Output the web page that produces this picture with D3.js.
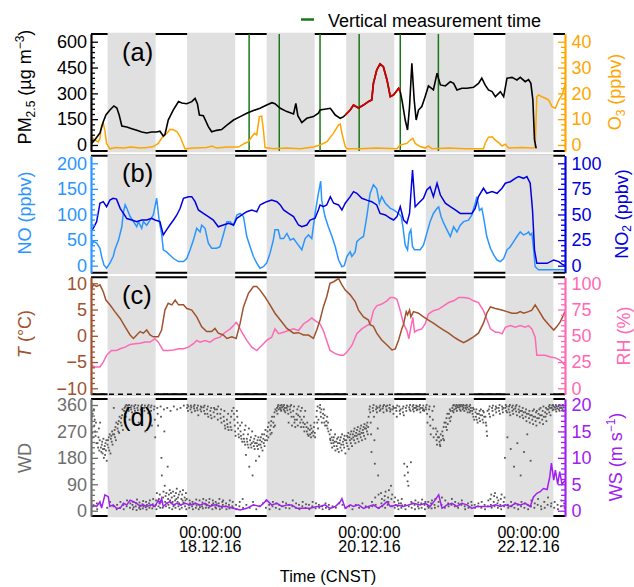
<!DOCTYPE html>
<html>
<head>
<meta charset="utf-8">
<script src="https://cdn.jsdelivr.net/npm/d3@7"></script>
<style>
  body { margin: 0; background: #fff; }
  svg { font-family: "Liberation Sans", Arial, sans-serif; }
</style>
</head>
<body>
<svg id="chart" width="634" height="587"></svg>
<script>
// time is in hours after 16.12.16 12:00 CNST
const startTime = Date.UTC(2016, 11, 16, 12);
const endHour = 143;
const nights = [[5, 19.5], [29, 43.5], [53, 67.5], [77, 91.5], [101, 115.5], [125, 139.5]];
const verticalTimes = [47.7, 56.8, 69.1, 80.9, 93.3, 104.8];
const xTickDates = [Date.UTC(2016, 11, 18), Date.UTC(2016, 11, 20), Date.UTC(2016, 11, 22)];

const pmTicks = [0, 150, 300, 450, 600];
const o3Ticks = [0, 10, 20, 30, 40];
const noTicks = [0, 50, 100, 150, 200];
const no2Ticks = [0, 25, 50, 75, 100];
const tTicks = [-10, -5, 0, 5, 10];
const rhTicks = [0, 25, 50, 75, 100];
const wdTicks = [0, 90, 180, 270, 360];
const wsTicks = [0, 5, 10, 15, 20];

const pm25 = [[0,5],[1.2,30],[2.7,70],[3.7,135],[4.5,175],[5.7,203],[6.9,227],[7.8,215],[8.5,174],[9.3,110],[10.8,105],[12.3,95],[13.8,85],[15.3,75],[16.8,70],[18.3,75],[19.8,75],[20.8,80],[21.8,52],[22.3,60],[23.3,145],[24.8,203],[26.4,252],[27.4,244],[28.9,240],[30.4,252],[31.4,271],[32.1,240],[32.7,174],[33.9,170],[35.4,107],[36.4,77],[37.9,85],[39.4,90],[41,116],[43,145],[45,165],[47,184],[49,200],[51,213],[53,232],[54.6,246],[55.5,240],[57.1,213],[59.1,194],[61.1,180],[61.8,242],[62.4,170],[63.6,130],[65.1,155],[67.1,165],[68.6,185],[69.1,203],[72.2,213],[73.7,174],[75.2,155],[76.2,165],[76.7,174],[78.2,203],[79.2,232],[80.7,215],[82.2,232],[83.7,252],[84.7,262],[85.2,358],[86.2,436],[87.2,471],[88.2,455],[89.3,378],[90.3,281],[91.3,291],[92.8,329],[93.3,310],[93.8,262],[94.8,145],[95.5,87],[96.1,223],[96.8,475],[97.5,262],[98.1,145],[98.8,203],[99.8,223],[100.8,281],[101.8,343],[103.3,320],[104.4,417],[105.4,349],[106.9,343],[108.4,368],[109.4,358],[110.4,320],[111.9,330],[113.4,330],[115.4,335],[116.9,358],[117.9,388],[118.9,349],[119.9,320],[121,310],[122,281],[123.5,310],[124.5,281],[125.5,388],[127,393],[128.5,378],[129.5,393],[131,368],[132,380],[132.7,358],[133.3,262],[133.8,29],[134.3,-20]];
const pmHighlight = [76.7, 93.3];

const o3 = [[0,3.2],[1.2,1.9],[2.2,1.2],[2.7,2.5],[3.2,7.8],[3.7,8.4],[4.2,5.5],[4.7,0.6],[5.7,-1.5],[7.5,-1],[9.8,-1.2],[12,-0.8],[14.8,-1.2],[17,-1],[18.8,-0.6],[20.3,0.6],[21.3,2.6],[22.9,4.5],[23.8,6.1],[24.8,5.9],[25.9,5.2],[26.9,3.2],[27.7,0.6],[28.4,-1.5],[31,-1.2],[34.9,-1],[36.5,-0.4],[37.9,-1.2],[41,-0.8],[43,-0.8],[44.5,-0.8],[46,0.4],[47.5,1.3],[48.5,3.2],[49.3,4.5],[50,3.9],[50.8,11],[51.5,11.2],[52,6],[52.5,-1],[55,-1.5],[59,-1.2],[63.1,-1.5],[67.1,-0.8],[69.1,0],[71.2,1.3],[73.1,4.5],[74.7,7.8],[75.2,8.1],[75.7,4.5],[76.7,-0.6],[77.2,-1.5],[81.2,-1.5],[86,-1.2],[92.3,-1.5],[93.3,0],[95.3,0.6],[96.3,1.9],[97.1,2.6],[97.8,0.6],[99.3,-0.6],[100.8,-1.2],[101.8,-0.4],[102.9,-1.5],[108,-1.2],[113,-1.5],[118.4,-1.5],[118.9,0.6],[119.9,3],[121,3.2],[122,1.9],[123,0.9],[124,-0.4],[125,0.3],[126,-1.2],[130,-1],[133.5,-1.2],[134,-0.6],[134.5,18.7],[135,19.4],[136,18.7],[137.1,18.1],[138.1,17.4],[139.1,14.8],[140.1,14.2],[141.1,17.4],[142.1,19.4],[143,23.3]];

const no = [[0,37],[0.7,47],[1.7,44],[2.7,34],[3.2,18],[3.9,1.4],[4.7,-5],[5.7,5],[6.7,18],[7.2,31],[8.3,50],[9.3,76],[9.8,105],[10.3,119],[10.8,112],[11.8,96],[12.8,86],[13.8,76],[14.3,86],[15.3,73],[15.8,86],[16.8,79],[17.8,89],[18.8,99],[19.8,132],[20.6,86],[21.3,63],[21.8,31],[22.8,27],[23.8,21],[24.9,14],[26.4,8],[27.9,8],[28.9,14],[29.9,31],[30.9,50],[31.9,73],[32.9,66],[33.4,79],[34.4,73],[35.4,44],[36.4,34],[37.9,34],[38.9,37],[39.9,60],[41,86],[42,86],[43,79],[44,99],[45,102],[46,96],[47,57],[48,37],[49,18],[50,5],[51,-5],[52,-2],[53,5],[54,24],[55,50],[55.5,70],[56.5,70],[57.1,53],[58.1,53],[59.1,63],[60.1,50],[61.1,53],[62.1,44],[63.6,31],[64.6,53],[65.6,60],[66.6,53],[67.6,102],[68.6,141],[69.3,165],[69.6,128],[70.6,96],[71.6,76],[72.7,57],[73.7,37],[74.7,11],[75.7,-2],[76.4,0],[77.2,18],[78.2,27],[78.7,18],[79.7,27],[80.2,47],[81.2,53],[82.2,57],[83.2,96],[84.2,141],[85.2,158],[86.2,150],[87,122],[87.7,135],[88.8,122],[90.3,112],[91.3,109],[92.8,102],[93.6,96],[94.1,76],[94.8,40],[95.5,31],[96,63],[96.5,70],[97,37],[97.6,31],[98.3,31],[99.3,31],[100.3,40],[101.3,63],[102.3,86],[103.3,102],[104.4,112],[104.9,115],[105.6,96],[106.4,83],[107.4,70],[108.4,57],[109.4,76],[110.4,66],[111.4,79],[112.4,86],[113.9,89],[114.9,99],[115.9,122],[116.4,135],[117.2,108],[117.9,112],[118.4,96],[119.4,57],[120.5,34],[121.5,21],[122.5,11],[123.5,8],[124.5,14],[125.5,31],[126.5,37],[127.5,47],[128.5,57],[129.5,66],[130.5,60],[131.5,63],[132,66],[132.5,60],[133,63],[133.5,34],[134,-2],[135,-8],[139.6,-8],[143,-8]];

const no2 = [[0,33],[0.9,38],[1.7,43],[2.7,61],[3.7,62.5],[4.7,57.6],[5.7,64],[6.7,65.8],[7.7,65],[8.8,56],[9.8,51],[10.8,46],[12.3,44.6],[13.8,43],[15.3,44.6],[16.8,44.6],[18.3,46.3],[19.3,44.6],[20.8,43],[21.8,30],[22.8,35],[23.8,39.7],[24.9,44.6],[25.9,49.5],[26.9,56],[27.9,65.8],[29.4,67.4],[30.4,67.4],[31.4,62.5],[32.4,54.4],[33.9,51],[35.4,47.9],[36.9,44.6],[38.4,38],[39.9,39.7],[41.5,41.4],[43,39.7],[44,46.3],[45.5,49.5],[47,52.7],[48.5,54.4],[50,52.7],[51,59.3],[52,61],[53,62.5],[54.5,64],[56.1,62.5],[57.1,59.3],[58.1,54.4],[59.6,51],[61.1,47.9],[62.6,39.7],[63.6,38],[65.1,39.7],[66.1,44.6],[67.6,46.3],[68.6,54.4],[69.1,59.3],[70.1,57.6],[71.1,59.3],[72.2,67.4],[73.2,61],[74.7,59.3],[75.7,54.4],[76.7,61],[78.2,67.4],[79.2,72.3],[80.2,70.7],[81.7,65.8],[83.2,64],[84.7,62.5],[86.2,59.3],[87.2,51],[88.8,49.5],[90.3,46.3],[91.3,44.6],[92.3,47.9],[93.3,57.6],[94.3,44.6],[95.3,41.4],[96.1,51],[97,93.5],[97.8,57.6],[98.8,61],[100.3,65.8],[101.3,74],[102.3,77],[103.3,67.4],[104.4,80.5],[105.4,69],[106.9,61],[108.4,57.6],[109.9,54.4],[111.4,51],[113.4,51],[114.9,51],[115.9,56],[116.9,67.4],[118.4,75.6],[119.4,70.7],[121,72.3],[122.5,70.7],[124,75.6],[125,80.5],[126.5,82],[128,85.3],[129,87],[130.5,85.3],[131.5,87],[132.5,80.5],[133.2,54.4],[133.8,15.3],[134.5,2.3],[135.5,2.3],[137.6,2.3],[139.6,5.6],[141.1,4],[142.1,1.5],[143,0]];

const temp = [[0,8.7],[0.7,9.7],[1.7,9.4],[2.7,9.7],[3.7,8.4],[4.5,6.8],[5.7,5.9],[7.2,4.6],[8.8,3.3],[10.3,1.7],[11.8,0.15],[12.8,-0.5],[13.8,0.15],[14.8,0.8],[15.8,0.5],[16.8,1.1],[17.8,0.15],[18.8,-0.2],[20.3,-0.2],[21.3,1.1],[22.3,4.9],[23.3,6.2],[24.4,5.9],[25.4,6.8],[26.4,5.9],[27.9,5.9],[28.9,5.2],[30.4,4.9],[31.9,3.6],[33.4,1.7],[34.9,0.8],[36.4,0.8],[37.4,1.4],[38.4,0.5],[39.9,0.15],[41,-0.5],[42.5,-0.2],[43.8,-0.5],[45,2.4],[46,5.5],[47.5,8.1],[49,9.4],[50,9.4],[51,8.7],[52.5,7.4],[54,5.9],[55.5,4.3],[57.1,3],[59.1,1.4],[61.1,0.5],[62.6,0.6],[64.1,0.15],[65.6,0.15],[67.1,-0.5],[68.1,1.1],[69.1,3],[70.1,5.5],[71.1,7.4],[72.1,10],[73.2,10.3],[74.7,10.9],[75.7,9.7],[76.7,8.7],[78.2,7.8],[79.7,6.5],[80.7,4.9],[82.2,3.6],[83.7,3],[84.2,2.1],[85.2,1.8],[86.2,0.5],[87.7,-0.8],[89.3,-1.75],[90.8,-2.7],[91.8,-2.5],[92.8,-0.8],[93.8,1.4],[94.3,2.2],[95.1,4.6],[95.5,4],[96.1,4.9],[96.5,3.6],[97.3,4.6],[98.8,4.3],[100.3,3.6],[101.8,3],[103.3,2.4],[104.9,1.7],[106.4,1.1],[107.9,0.5],[109.4,-0.2],[110.9,-0.8],[112.4,-1.3],[113.9,-0.8],[115.4,-0.2],[116.9,0.5],[118.4,2.4],[119.4,4.3],[120.5,5.5],[122,5.2],[123.9,4.9],[125.5,4.6],[127,4.3],[128.5,4.3],[129.5,4.6],[130.5,4.3],[132,4.6],[133,4.9],[134,5.9],[135,4.9],[136.5,3.3],[138.1,2.1],[139.6,1.1],[140.6,1.8],[141.6,2.7],[143,4.6]];

const rh = [[0,22],[1.2,20.4],[2.7,20.4],[3.7,25],[4.7,31.4],[6.2,36],[7.7,36],[8.8,37.7],[10.3,39.2],[11.8,41.8],[13.3,42.5],[14.8,43],[16.3,44],[17.8,44],[19.3,47.2],[20.3,44],[21.8,36],[23.3,36],[24.9,36.5],[26.4,37.7],[27.9,37.7],[29.4,39.2],[30.9,42.5],[31.9,45.6],[32.9,44],[34.4,45.6],[35.9,44],[37.4,47.2],[38.9,48.7],[40.5,53.4],[42,56.6],[43,59.7],[43.8,62.8],[44.5,59.7],[45.5,53.4],[47,45.6],[48.5,39.2],[50,36],[51.5,40.8],[53,45.6],[54.5,48.7],[55.5,56.6],[56.6,52],[58.1,53.4],[59.6,55],[61.1,56.6],[62.6,55],[64.1,61.3],[65.6,64.4],[66.6,67],[67.6,64.4],[69.1,61.3],[70.1,55],[71.1,45.6],[72.1,36],[73.7,33],[75.2,31.4],[76.2,31.4],[77.2,34.5],[78.7,40.8],[80.2,51.9],[81.7,56.6],[83.2,59.7],[84.2,61.3],[85.2,73.9],[86.2,78.6],[87.7,80.2],[89.3,83.3],[90.3,86.4],[91.3,86.4],[92.3,84.8],[93.3,73.9],[94.3,61.3],[95.3,55],[95.9,47.2],[96.5,58],[97.1,67.5],[97.6,53.4],[98.3,55],[99.8,56.6],[100.8,61.3],[101.8,70.7],[103.3,73.9],[104.9,75.4],[106.4,78.6],[107.9,81.7],[109.4,83.3],[110.9,86.4],[112.4,86.4],[113.9,85.8],[115.4,83.3],[116.9,81.7],[118.4,73.9],[119.4,66],[120.5,56.6],[122,53.4],[123,53.4],[124,51.9],[125,58.1],[126.5,59.7],[128,58.1],[129.5,59.7],[131,58.1],[132,59.7],[133,56.6],[134,48.7],[134.5,31.4],[135.5,31.4],[137,31.4],[138.6,29.8],[140.1,29],[141.6,26.7],[143,22]];

const ws = [[0,0.5],[0.7,1.1],[1.7,0.8],[2.7,1.7],[3.2,0.5],[4.2,3],[5.2,2.65],[5.7,0.8],[6.7,1.1],[7.7,0.45],[8.8,0.45],[9.8,1.4],[10.8,1.1],[11.8,2],[12.8,1.7],[13.8,1.4],[14.8,0.8],[15.8,1.1],[16.8,0.8],[18.3,1.1],[19.3,0.8],[20.3,2],[20.8,1.4],[21.3,2.3],[21.8,0.8],[22.8,1.4],[23.8,1.7],[24.9,1.1],[25.9,1.4],[26.9,1.1],[28.4,1.4],[29.9,1.1],[31.4,1.4],[32.9,1.1],[34.4,1.4],[35.9,0.8],[37.4,1.1],[38.9,0.8],[41,0.8],[43,0.45],[45,0.13],[47,0.45],[49,1.1],[51,0.8],[53,2],[54.5,1.1],[56.1,1.4],[57.6,0.8],[59.1,1.1],[60.6,1.1],[62.1,0.45],[64.1,0.45],[66.1,0.45],[68.1,0.8],[69.1,0.8],[70.6,1.1],[72.1,0.45],[73.7,0.8],[75.2,1.7],[75.7,2.3],[76.7,0.45],[78.2,1.1],[79.2,0.8],[80.7,1.1],[82.2,0.45],[83.7,0.8],[85.2,1.1],[86.7,0.45],[88.2,1.1],[89.3,1.7],[90.3,0.8],[92.3,1.1],[94.3,0.8],[95.8,1.1],[97.3,1.4],[99.3,1.1],[100.8,1.4],[102.3,0.8],[103.8,2],[104.9,3],[105.9,0.45],[107.4,1.1],[108.9,1.4],[110.4,0.8],[111.9,1.4],[113.4,1.1],[114.9,0.45],[116.4,0.8],[118.4,0.8],[120.5,0.8],[122,1.1],[123.5,0.8],[125,1.1],[126.5,0.8],[128,1.4],[129.5,1.1],[131,1.4],[132.5,0.8],[133.5,2.6],[134.5,3.3],[135.5,3.6],[136.5,4.2],[137.6,4],[138.4,6.4],[138.9,9],[139.6,5.8],[140.1,7.7],[140.8,5],[141.4,7.4],[142.1,5],[143,5.7]];

// wind direction readings, one row per hour (samples spread evenly through the hour)
const wdHourly = [
[300,280,320,265,330,250,15,345],[290,310,270,255,300,230,25,5],[230,215,250,280,205,240,300,20],[215,200,225,235,195,210,245,180],
[210,220,190,230,205,240,170,10],[225,240,215,250,205,260,30,195],[245,255,235,270,225,260,15,350],[260,275,250,285,240,300,5,20],
[280,295,270,305,265,320,10,30],[300,315,290,325,345,275,20,5],[340,350,330,355,320,360,15,35],[350,358,345,340,360,310,10,25],
[352,345,358,335,20,5,30,12],[355,348,340,360,15,25,2,38],[350,342,358,300,10,28,18,5],[345,355,338,360,22,8,33,15],
[350,340,358,270,12,30,4,20],[348,355,332,360,25,10,35,18],[352,340,358,290,8,22,40,15],[345,355,310,250,20,35,5,60],
[350,330,290,15,40,25,55,10],[355,320,180,120,30,10,45,65],[345,270,85,30,50,15,60,25],[350,150,40,20,55,10,70,35],
[340,60,25,45,5,30,65,15],[355,50,20,35,10,60,40,75],[345,30,45,15,55,25,5,65],[350,20,40,10,55,35,70,28],
[358,25,45,15,35,60,5,40],[350,360,340,355,20,10,35,25],[345,358,352,335,15,30,5,22],[355,348,360,340,25,10,38,18],
[350,342,358,325,5,20,35,12],[345,355,338,352,15,28,8,40],[352,340,358,330,22,10,35,18],[345,330,355,320,10,28,40,15],
[340,325,350,315,20,5,35,25],[335,350,320,345,12,30,8,22],[345,330,310,355,25,15,40,5],[330,315,345,300,10,30,20,35],
[320,305,340,290,280,15,25,5],[310,295,285,330,275,20,8,35],[300,285,320,275,340,15,30,10],[350,330,310,290,270,255,20,5],
[340,320,300,280,260,250,15,30],[290,270,255,245,300,235,40,10],[260,245,235,275,225,290,190,20],[245,235,225,260,215,280,150,10],
[240,225,250,215,230,270,120,30],[235,220,245,210,230,255,170,5],[230,220,240,210,250,225,185,15],[240,225,250,215,235,260,205,25],
[245,230,260,220,240,275,10,35],[255,240,270,285,250,300,20,5],[275,260,290,305,265,320,15,30],[300,285,320,335,290,345,10,25],
[340,350,330,355,360,345,20,5],[350,358,345,340,360,352,15,30],[355,345,360,340,350,335,10,25],[350,358,342,355,330,300,20,8],
[345,355,335,360,320,290,15,35],[340,320,355,300,310,285,10,25],[330,310,345,290,325,355,20,5],[320,300,340,285,310,350,15,30],
[300,285,320,270,295,340,10,22],[285,270,300,260,280,255,20,5],[275,260,290,250,280,265,15,30],[270,255,285,300,265,250,8,25],
[320,340,300,355,280,310,20,10],[350,360,335,320,345,300,15,5],[330,315,345,300,325,290,25,10],[305,290,320,280,300,270,20,5],
[260,245,240,275,230,250,215,15],[240,230,250,220,235,260,205,10],[235,220,245,210,230,250,200,25],[230,240,215,250,225,205,260,20],
[235,225,245,215,255,240,195,10],[240,230,255,220,250,265,210,15],[250,240,260,230,270,245,220,5],[260,250,270,240,280,255,230,20],
[265,255,275,245,285,260,235,10],[270,260,280,250,290,265,240,25],[275,265,285,255,295,280,245,15],[280,290,270,300,260,285,320,10],
[345,355,335,300,260,200,30,15],[350,340,360,320,240,160,45,20],[345,355,335,350,280,120,55,10],[352,340,358,345,60,25,40,15],
[348,355,335,360,35,50,10,65],[355,345,340,358,20,45,30,70],[350,360,338,345,85,40,15,55],[345,355,330,350,30,10,45,20],
[350,340,320,358,15,35,5,25],[355,340,330,345,25,10,40,18],[348,335,355,325,160,120,20,5],[350,340,358,150,100,130,85,15],
[352,345,360,340,165,30,10,25],[355,345,360,338,350,20,5,35],[350,358,342,355,345,15,28,8],[355,345,360,335,350,25,10,38],
[350,342,358,345,340,20,5,30],[352,345,360,330,300,15,30,10],[345,355,320,290,260,25,8,35],[340,310,280,250,355,20,10,40],
[280,260,240,225,270,250,15,30],[250,235,225,220,260,240,20,45],[270,255,245,285,240,300,10,35],[300,285,315,275,330,295,25,15],
[330,315,345,305,340,320,20,40],[350,340,358,335,360,345,15,30],[355,348,360,340,352,358,10,25],[352,360,345,355,340,360,20,35],
[355,345,360,350,358,340,15,5],[350,358,345,360,352,335,25,10],[345,355,335,360,340,350,30,18],[340,330,350,320,345,310,20,10],
[335,320,345,310,330,300,15,25],[330,315,340,305,325,345,10,30],[325,310,340,300,335,320,20,5],[320,300,290,270,255,340,15,35],
[345,330,355,320,40,20,55,10],[350,340,358,325,30,50,15,60],[345,355,335,350,45,25,10,35],[350,340,360,330,20,40,5,55],
[355,345,335,350,30,15,45,180],[350,360,340,355,335,250,20,10],[345,355,335,360,325,210,30,15],[352,340,358,330,345,150,10,25],
[348,355,338,360,325,230,20,5],[345,335,355,320,340,120,15,30],[340,325,350,315,335,200,10,25],[335,320,345,305,330,260,20,5],
[330,315,340,300,325,170,15,35],[325,310,340,295,320,345,10,25],[320,305,335,290,340,315,20,40],[330,315,345,300,325,350,15,5],
[325,310,340,295,355,320,30,10],[335,320,350,305,330,345,20,45],[345,355,335,360,350,325,15,25],[350,358,342,360,345,355,10,30],
[352,345,360,338,355,348,20,5],[355,345,360,340,350,358,15,35],[350,358,345,360,340,352,25,10]
];

const svg = d3.select("#chart");
const left = 91, right = 565, panelH = 117;
const t = h => new Date(startTime + h * 3600e3);
const x = d3.scaleUtc().domain([t(0), t(endHour)]).range([left, right]);

const colors = {
  pm: "#000", pmRed: "#d40000", o3: "#ffa500", no: "#2b95ff", no2: "#0000e0",
  t: "#a0522d", rh: "#ff69b4", wd: "#555", wdAxis: "#6e6e6e", ws: "#a020f0",
  band: "#e0e0e0", green: "#187818"
};

const panels = [
  { top: 34, label: "(a)", yl: [-35, 645], yr: [-35 / 15, 645 / 15],
    lc: colors.pm, rc: colors.o3, lt: pmTicks, lm: 30, rt: o3Ticks, rm: 2,
    ltitle: [{ s: "PM" }, { s: "2.5", sub: 1 }, { s: " (µg m" }, { s: "−3", sup: 1 }, { s: ")" }], lty: 87,
    rtitle: [{ s: "O" }, { s: "3", sub: 1 }, { s: " (ppbv)" }], rtx: 621, rty: 92 },
  { top: 155.7, label: "(b)", yl: [-13.7, 214.8], yr: [-6.85, 107.4],
    lc: colors.no, rc: colors.no2, lt: noTicks, lm: 10, rt: no2Ticks, rm: 5,
    ltitle: [{ s: "NO (ppbv)" }], lty: 213,
    rtitle: [{ s: "NO" }, { s: "2", sub: 1 }, { s: " (ppbv)" }], rtx: 627.5, rty: 214 },
  { top: 277.3, label: "(c)", yl: [-11.14, 11.14], yr: [-5.7, 105.7],
    lc: colors.t, rc: colors.rh, lt: tTicks, lm: 1, rt: rhTicks, rm: 5,
    ltitle: [{ s: "T", it: 1 }, { s: " (°C)" }], lty: 334,
    rtitle: [{ s: "RH (%)" }], rtx: 629.5, rty: 336 },
  { top: 399, label: "(d)", yl: [-18, 380.4], yr: [-1, 21.13],
    lc: colors.wdAxis, rc: colors.ws, lt: wdTicks, lm: 18, rt: wsTicks, rm: 1,
    ltitle: [{ s: "WD" }], lty: 458,
    rtitle: [{ s: "WS (m s" }, { s: "−1", sup: 1 }, { s: ")" }], rtx: 622, rty: 457 }
];

function title(g, parts, tx, ty, color) {
  const txt = g.append("text")
    .attr("transform", `translate(${tx},${ty}) rotate(-90)`)
    .attr("text-anchor", "middle").attr("font-size", 18).attr("fill", color);
  let cur = 0;
  parts.forEach(p => {
    const target = p.sub ? 3.5 : p.sup ? -7 : 0;
    txt.append("tspan").attr("dy", target - cur)
      .attr("font-size", p.sub || p.sup ? 12 : 18)
      .attr("font-style", p.it ? "italic" : null)
      .text(p.s);
    cur = target;
  });
}

function axis(g, scale, side, color, major, minorStep) {
  const make = side === "left" ? d3.axisLeft : d3.axisRight;
  const xPos = side === "left" ? left : right;
  const minor = d3.range(major[0], major[major.length - 1] + 1e-9, minorStep)
    .filter(v => !major.some(m => Math.abs(m - v) < 1e-9));
  const gm = g.append("g").attr("transform", `translate(${xPos},0)`)
    .call(make(scale).tickValues(minor).tickSizeInner(-4).tickSizeOuter(0).tickFormat(""));
  const ga = g.append("g").attr("transform", `translate(${xPos},0)`)
    .call(make(scale).tickValues(major).tickSizeInner(-7).tickSizeOuter(0)
      .tickPadding(side === "left" ? 4 : 6.5));
  [gm, ga].forEach(a => {
    a.attr("font-family", null).attr("font-size", null);
    a.select(".domain").attr("stroke", color).attr("stroke-width", 1.7);
    a.selectAll(".tick line").attr("stroke", color).attr("stroke-width", 1.3);
  });
  ga.selectAll(".tick text").attr("fill", color).attr("font-size", 18);
}

panels.forEach((p, i) => {
  const bottom = p.top + panelH;
  p.yL = d3.scaleLinear().domain(p.yl).range([bottom, p.top]);
  p.yR = d3.scaleLinear().domain(p.yr).range([bottom, p.top]);
  const g = svg.append("g");

  g.append("clipPath").attr("id", "clip" + i).append("rect")
    .attr("x", left).attr("y", p.top).attr("width", right - left).attr("height", panelH);

  [p.top, bottom].forEach(yy => g.append("line")
    .attr("x1", left).attr("x2", right).attr("y1", yy).attr("y2", yy)
    .attr("stroke", "#000").attr("stroke-width", 2));

  g.selectAll(".band").data(nights).join("rect")
    .attr("x", d => x(t(d[0]))).attr("width", d => x(t(d[1])) - x(t(d[0])))
    .attr("y", p.top - 1.3).attr("height", panelH + 2.6)
    .attr("fill", colors.band);

  p.g = g.append("g").attr("clip-path", `url(#clip${i})`);
  p.axes = g;
});

const line = y => d3.line().x(d => x(t(d[0]))).y(d => y(d[1]));
const [pa, pb, pc, pd] = panels;

// (a)
pa.g.selectAll(".vt").data(verticalTimes).join("line")
  .attr("x1", d => x(t(d))).attr("x2", d => x(t(d)))
  .attr("y1", pa.top).attr("y2", pa.top + panelH)
  .attr("stroke", colors.green).attr("stroke-width", 1.5);
pa.g.append("path").datum(o3).attr("d", line(pa.yR))
  .attr("fill", "none").attr("stroke", colors.o3).attr("stroke-width", 1.5);
pa.g.append("path").datum(pm25).attr("d", line(pa.yL))
  .attr("fill", "none").attr("stroke", colors.pm).attr("stroke-width", 1.6);
pa.g.append("path").datum(pm25.filter(d => d[0] >= pmHighlight[0] && d[0] <= pmHighlight[1]))
  .attr("d", line(pa.yL)).attr("fill", "none").attr("stroke", colors.pmRed).attr("stroke-width", 1.8);

// (b)
pb.g.append("path").datum(no).attr("d", line(pb.yL))
  .attr("fill", "none").attr("stroke", colors.no).attr("stroke-width", 1.5);
pb.g.append("path").datum(no2).attr("d", line(pb.yR))
  .attr("fill", "none").attr("stroke", colors.no2).attr("stroke-width", 1.5);

// (c)
pc.g.append("path").datum(rh).attr("d", line(pc.yR))
  .attr("fill", "none").attr("stroke", colors.rh).attr("stroke-width", 1.5);
pc.g.append("path").datum(temp).attr("d", line(pc.yL))
  .attr("fill", "none").attr("stroke", colors.t).attr("stroke-width", 1.5);
pc.axes.append("line")
  .attr("x1", left).attr("x2", right).attr("y1", pc.top + panelH).attr("y2", pc.top + panelH)
  .attr("stroke", "#000").attr("stroke-width", 1.6).attr("stroke-dasharray", "5,4");

// (d)
const wdPoints = wdHourly.flatMap((row, h) => row.map((v, j) => [h + j / row.length, v]));
pd.g.selectAll(".wd").data(wdPoints).join("rect")
  .attr("x", d => x(t(d[0])) - 0.9).attr("y", d => pd.yL(d[1]) - 0.9)
  .attr("width", 1.8).attr("height", 1.8).attr("fill", colors.wd);
pd.g.append("path").datum(ws).attr("d", line(pd.yR))
  .attr("fill", "none").attr("stroke", colors.ws).attr("stroke-width", 1.5);

panels.forEach(p => {
  axis(p.axes, p.yL, "left", p.lc, p.lt, p.lm);
  axis(p.axes, p.yR, "right", p.rc, p.rt, p.rm);
  p.axes.append("text").attr("x", 122).attr("y", p.top + 26.5)
    .attr("font-size", 25.5).attr("fill", "#000").text(p.label);
  title(p.axes, p.ltitle, 31, p.lty, p.lc);
  title(p.axes, p.rtitle, p.rtx, p.rty, p.rc);
});

// x labels: time and date as two lines of one text
const fmtTime = d3.utcFormat("%H:%M:%S"), fmtDate = d3.utcFormat("%d.%m.%y");
const xl = svg.append("g").attr("font-size", 16).attr("text-anchor", "middle");
xTickDates.forEach(d => {
  const xx = x(new Date(d));
  const txt = xl.append("text").attr("y", 538.3);
  txt.append("tspan").attr("x", xx).text(fmtTime(new Date(d)));
  txt.append("tspan").attr("x", xx).attr("dy", 13.4).text(fmtDate(new Date(d)));
});
svg.append("text").attr("x", 328).attr("y", 582).attr("text-anchor", "middle")
  .attr("font-size", 16.5).text("Time (CNST)");

// legend
svg.append("line").attr("x1", 301).attr("x2", 314).attr("y1", 19.5).attr("y2", 19.5)
  .attr("stroke", colors.green).attr("stroke-width", 2.5);
svg.append("text").attr("x", 328).attr("y", 26.5).attr("font-size", 18).text("Vertical measurement time");
</script>
</body>
</html>
